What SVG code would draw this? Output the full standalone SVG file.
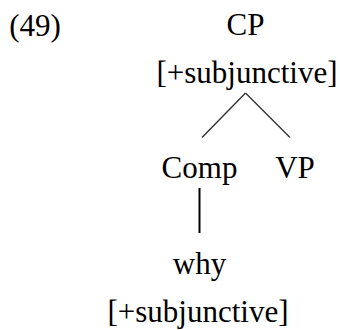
<svg xmlns="http://www.w3.org/2000/svg" width="340" height="330" viewBox="0 0 340 330">
<style>
text{font-family:"Liberation Serif","Times New Roman",serif;font-size:31px;fill:#000;text-anchor:middle}
.edge{stroke:#333;stroke-width:1.4;fill:none}
.stem{stroke:#000;stroke-width:2;fill:none}
</style>
<rect width="340" height="330" fill="#fff"/>
<g id="label"><text x="35" y="36">(49)</text></g>
<g id="cp"><text x="245.5" y="35">CP</text><text x="247" y="83">[+subjunctive]</text></g>
<g id="comp"><text x="199.5" y="178">Comp</text></g>
<g id="vp"><text x="295" y="178">VP</text></g>
<g id="why"><text x="199.5" y="274">why</text><text x="198" y="322">[+subjunctive]</text></g>
<g id="connectors">
<path class="edge" d="M245.5 93 L202 137.5 M245.5 93 L290 137.5"/>
<path class="stem" d="M199.5 188 V233"/>
</g>
</svg>
